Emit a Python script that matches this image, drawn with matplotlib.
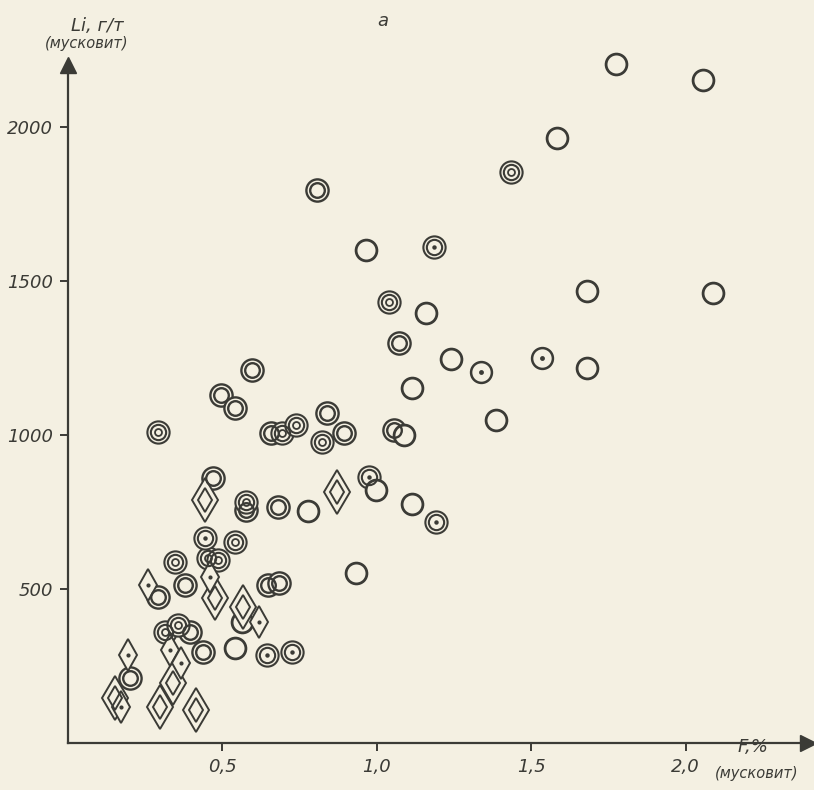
import numpy as np
import matplotlib.pyplot as plt

# Li (г/т) vs F (%) in muscovite
# O - open circle, R - double ring, T - ring with inner circle,
# D - double ring with dot, S - ring with dot, DD - double diamond, DS - small diamond with dot
open_f  = [1.776, 2.055, 1.584, 0.964, 1.159, 1.682, 2.088, 1.240, 1.114, 1.682, 1.386,
           1.088, 0.776, 0.997, 1.114, 0.932, 0.562, 0.542]
open_li = [2205, 2153, 1964, 1601, 1396, 1468, 1461, 1247, 1153, 1218, 1049,
           1000, 753, 821, 776, 552, 393, 308]

ring_f  = [0.805, 1.071, 0.597, 0.494, 0.542, 0.659, 0.838, 0.893, 1.055, 0.471, 0.578,
           0.679, 0.292, 0.380, 0.649, 0.682, 0.396, 0.438, 0.201]
ring_li = [1796, 1299, 1211, 1130, 1088, 1007, 1072, 1007, 1016, 860, 757,
           766, 474, 513, 513, 520, 360, 295, 211]

triple_f  = [1.435, 1.039, 0.292, 0.692, 0.737, 0.821, 0.575, 0.542, 0.347, 0.455, 0.487,
             0.315, 0.357]
triple_li = [1854, 1432, 1010, 1007, 1033, 977, 783, 653, 588, 601, 594,
             360, 383]

ringdot_f  = [1.185, 0.974, 1.192, 0.445, 0.643, 0.724]
ringdot_li = [1611, 864, 718, 666, 286, 295]

dot_f  = [1.338, 1.536]
dot_li = [1205, 1250]

dia_f  = [0.445, 0.870, 0.477, 0.568, 0.341, 0.153, 0.299, 0.416]
dia_li = [789, 815, 471, 442, 195, 146, 117, 107]

sdia_f  = [0.260, 0.461, 0.617, 0.195, 0.331, 0.367, 0.172]
sdia_li = [513, 539, 393, 286, 302, 260, 117]

bg = '#f4f0e2'
ink = '#3b3b36'

plt.rcParams['font.family'] = ['DejaVu Sans']
fig = plt.figure(figsize=(8.14, 7.90), dpi=100, facecolor=bg)
ax = fig.add_axes([0.0835, 0.0595, 0.909, 0.858], facecolor=bg)
ax.set_xlim(0, 2.396)
ax.set_ylim(0, 2200)

def draw(xs, ys, layers):
    for k, (m, ms, mew, fill) in enumerate(layers):
        ax.plot(xs, ys, ls='none', marker=m, ms=ms, mfc=fill, mec=ink, mew=mew,
                clip_on=False, zorder=3 + k * 0.01)

draw(ring_f, ring_li, [('o', 16, 1.7, bg), ('o', 10.5, 1.7, 'none')])
draw(triple_f, triple_li, [('o', 16, 1.5, bg), ('o', 11, 1.5, 'none'), ('o', 5, 1.3, 'none')])
draw(ringdot_f, ringdot_li, [('o', 16, 1.5, bg), ('o', 11, 1.5, 'none'), ('o', 3.2, 0, ink)])
draw(dot_f, dot_li, [('o', 15, 1.8, bg), ('o', 3.5, 0, ink)])
draw(open_f, open_li, [('o', 15, 2.0, bg)])
draw(dia_f, dia_li, [('d', 22, 1.4, bg), ('d', 12, 1.4, 'none')])
draw(sdia_f, sdia_li, [('d', 16, 1.4, bg), ('o', 3, 0, ink)])

# axes drawn as arrows
for s in ['top', 'right']:
    ax.spines[s].set_visible(False)
for s in ['left', 'bottom']:
    ax.spines[s].set_color(ink)
    ax.spines[s].set_linewidth(1.6)
ax.plot([0], [1], marker='^', ms=11, color=ink, transform=ax.transAxes, clip_on=False)
ax.plot([1], [0], marker='>', ms=11, color=ink, transform=ax.transAxes, clip_on=False)

ax.set_xticks([0.5, 1.0, 1.5, 2.0])
ax.set_xticklabels(['0,5', '1,0', '1,5', '2,0'])
ax.set_yticks([500, 1000, 1500, 2000])
ax.set_yticklabels(['500', '1000', '1500', '2000'])
ax.tick_params(colors=ink, length=6, width=1.4, labelsize=13, pad=5)
for lab in ax.get_xticklabels() + ax.get_yticklabels():
    lab.set_fontstyle('italic')

fig.text(0.47, 0.985, 'а', ha='center', va='top', fontsize=13, style='italic', color=ink)
fig.text(0.12, 0.978, 'Li, г/т', ha='center', va='top', fontsize=13, style='italic', color=ink)
fig.text(0.107, 0.955, '(мусковит)', ha='center', va='top', fontsize=10.5, style='italic', color=ink)
fig.text(0.925, 0.054, 'F,%', ha='center', va='center', fontsize=13, style='italic', color=ink)
fig.text(0.93, 0.021, '(мусковит)', ha='center', va='center', fontsize=10.5, style='italic', color=ink)

fig.savefig('out.png', dpi=100, facecolor=bg)
